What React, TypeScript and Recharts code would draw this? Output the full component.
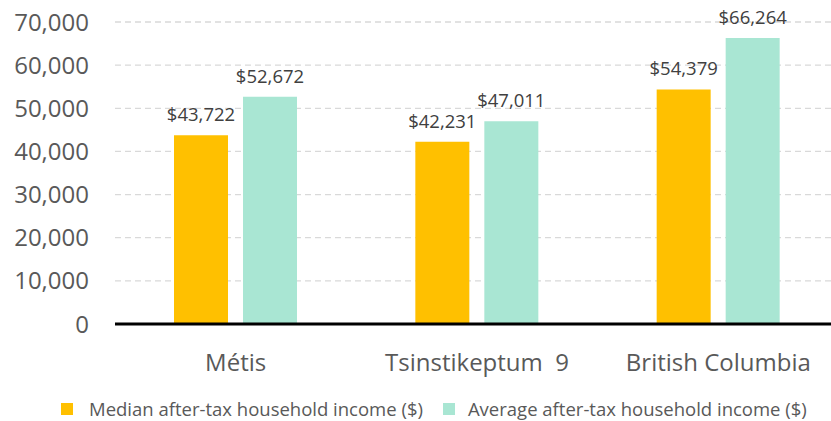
import React from 'react';
import {
  BarChart,
  Bar,
  XAxis,
  YAxis,
  CartesianGrid,
  Legend,
  LabelList
} from 'recharts';

const categories = ['Métis', 'Tsinstikeptum  9', 'British Columbia'];
const medianIncome = [43722, 42231, 54379];
const averageIncome = [52672, 47011, 66264];
const yTicks = [0, 10000, 20000, 30000, 40000, 50000, 60000, 70000];

const MEDIAN_COLOR = '#FFC000';
const AVERAGE_COLOR = '#A9E6D3';
const FONT = '"Open Sans", sans-serif';

const chartData = categories.map((name, i) => ({
  name,
  median: medianIncome[i],
  average: averageIncome[i]
}));

const fmtTick = (v: number) => v.toLocaleString('en-US');
const fmtLabel = (v: any) => `$${Number(v).toLocaleString('en-US')}`;

// keeps the double space in "Tsinstikeptum  9"
const CategoryTick = (props: any) => {
  const { x, y, payload } = props;
  return (
    <text
      x={x}
      y={y + 28}
      dy="0.71em"
      textAnchor="middle"
      fill="#595959"
      fontSize={24}
      fontFamily={FONT}
      style={{ whiteSpace: 'pre' }}
    >
      {payload.value}
    </text>
  );
};

const LegendContent = () => (
  <div
    style={{
      display: 'flex',
      alignItems: 'center',
      fontFamily: FONT,
      fontSize: 18.5,
      color: '#595959',
      whiteSpace: 'nowrap'
    }}
  >
    <span style={{ width: 12, height: 12, background: MEDIAN_COLOR, marginLeft: 61, marginRight: 16 }} />
    <span>Median after-tax household income ($)</span>
    <span style={{ width: 12, height: 12, background: AVERAGE_COLOR, marginLeft: 20, marginRight: 13 }} />
    <span>Average after-tax household income ($)</span>
  </div>
);

export default function App() {
  return (
    <div style={{ position: 'absolute', left: 0, top: 0, width: 831, height: 421, background: '#fff' }}>
      <BarChart
        width={831}
        height={421}
        data={chartData}
        margin={{ top: 22, right: -8, bottom: 47, left: 0 }}
        barSize={54}
        barGap={15}
      >
        <CartesianGrid
          vertical={false}
          stroke="#D9D9D9"
          strokeDasharray="6 4"
          strokeWidth={1.3}
        />
        <XAxis
          dataKey="name"
          height={50}
          tickLine={false}
          tickSize={0}
          axisLine={{ stroke: '#000', strokeWidth: 3 }}
          tick={<CategoryTick />}
        />
        <YAxis
          width={115}
          domain={[0, 70000]}
          ticks={yTicks}
          tickFormatter={fmtTick}
          axisLine={false}
          tickLine={false}
          tickSize={0}
          tickMargin={26}
          tick={{ fill: '#595959', fontSize: 24, fontFamily: FONT }}
        />
        <Legend
          layout="horizontal"
          verticalAlign="middle"
          align="center"
          content={<LegendContent />}
          wrapperStyle={{ top: 396, left: 0, width: 831, height: 24 }}
        />
        <Bar dataKey="median" fill={MEDIAN_COLOR} isAnimationActive={false}>
          <LabelList
            dataKey="median"
            position="top"
            offset={14}
            formatter={fmtLabel}
            style={{ fill: '#404040', fontSize: 18.5, fontFamily: FONT }}
          />
        </Bar>
        <Bar dataKey="average" fill={AVERAGE_COLOR} isAnimationActive={false}>
          <LabelList
            dataKey="average"
            position="top"
            offset={14}
            formatter={fmtLabel}
            style={{ fill: '#404040', fontSize: 18.5, fontFamily: FONT }}
          />
        </Bar>
      </BarChart>
    </div>
  );
}
